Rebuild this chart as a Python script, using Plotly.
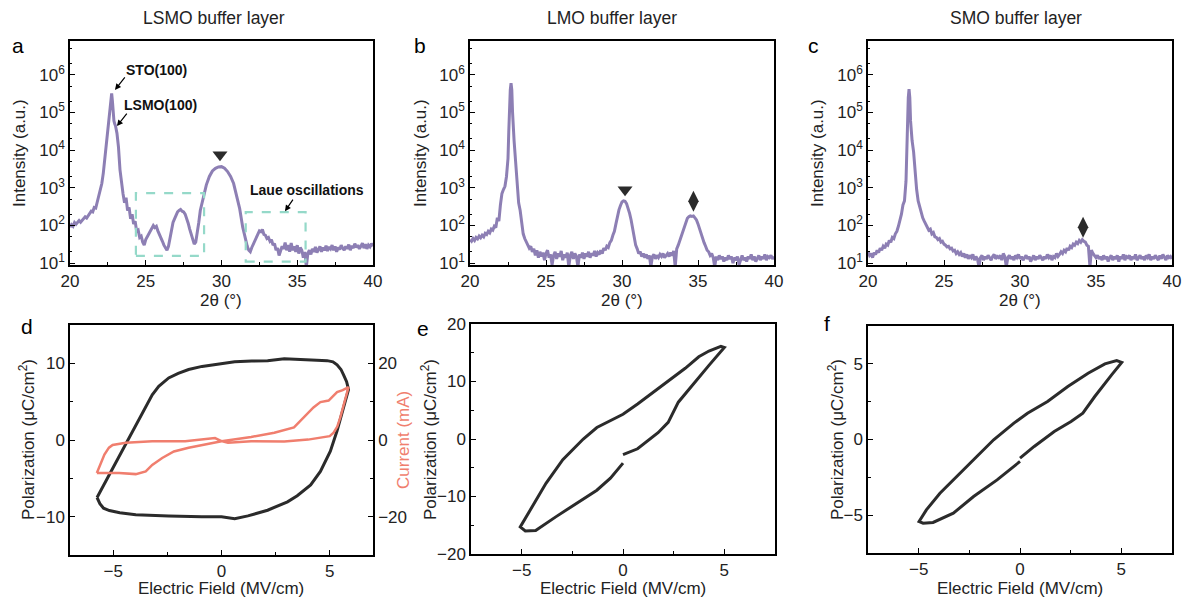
import plotly.graph_objects as go

# ---- XRD data (2theta in degrees, intensity in a.u.) ----
lsmo_2theta = [20.0, 20.1, 20.2, 20.3, 20.4, 20.5, 20.6, 20.7, 20.8, 20.9, 21.0, 21.1, 21.2, 21.3, 21.4,
               21.5, 21.6, 21.7, 21.8, 21.9, 22.0, 22.1, 22.2, 22.3, 22.4, 22.5, 22.6, 22.7, 22.75, 22.8,
               22.85, 22.9, 22.95, 23.0, 23.1, 23.2, 23.3, 23.4, 23.5, 23.6, 23.7, 23.8, 23.9, 24.0, 24.1,
               24.2, 24.3, 24.4, 24.5, 24.6, 24.7, 24.8, 24.9, 25.0, 25.1, 25.2, 25.3, 25.4, 25.5, 25.6,
               25.7, 25.8, 25.9, 26.0, 26.1, 26.2, 26.3, 26.4, 26.5, 26.6, 26.7, 26.8, 26.9, 27.0, 27.1,
               27.2, 27.3, 27.4, 27.5, 27.6, 27.7, 27.8, 27.9, 28.0, 28.1, 28.2, 28.3, 28.4, 28.5, 28.6,
               28.8, 29.0, 29.2, 29.4, 29.6, 29.8, 30.0, 30.2, 30.4, 30.6, 30.8, 31.0, 31.2, 31.4, 31.6,
               31.7, 31.8, 31.9, 32.0, 32.1, 32.2, 32.3, 32.4, 32.5, 32.6, 32.7, 32.8, 32.9, 33.0, 33.1,
               33.2, 33.3, 33.4, 33.5, 33.6, 33.7, 33.8, 33.9, 34.0, 34.1, 34.2, 34.3, 34.4, 34.5, 34.6,
               34.7, 34.8, 34.9, 35.0, 35.1, 35.2, 35.3, 35.4, 35.5, 35.6, 35.7, 35.8, 35.9, 36.0, 36.1,
               36.2, 36.3, 36.4, 36.5, 36.6, 36.7, 36.8, 36.9, 37.0, 37.1, 37.2, 37.3, 37.4, 37.5, 37.6,
               37.7, 37.8, 37.9, 38.0, 38.1, 38.2, 38.3, 38.4, 38.5, 38.6, 38.7, 38.8, 38.9, 39.0, 39.1,
               39.2, 39.3, 39.4, 39.5, 39.6, 39.7, 39.8, 39.9, 40.0]
lsmo_int = [90, 105, 95, 120, 108, 118, 135, 122, 140, 150, 170, 158, 185, 200, 240,
            230, 300, 290, 420, 560, 800, 1300, 2500, 6000, 18000, 50000, 120000, 250000, 320000, 200000,
            90000, 60000, 50000, 45000, 28000, 12000, 3000, 1200, 700, 400, 550, 250, 300, 150, 200,
            110, 130, 70, 75, 48, 52, 36, 30, 42, 50, 62, 70, 85, 100, 88,
            95, 72, 60, 48, 38, 30, 26, 22, 28, 45, 70, 120, 150, 190, 230,
            250, 265, 240, 230, 200, 160, 115, 80, 58, 40, 32, 36, 60, 120, 250,
            600, 1200, 2000, 2800, 3300, 3600, 3650, 3300, 2700, 2000, 1300, 650, 280, 90, 40,
            28, 22, 20, 26, 32, 42, 50, 60, 72, 68, 78, 58, 55, 45, 48,
            38, 42, 30, 33, 22, 25, 16, 20, 28, 24, 35, 22, 30, 20, 34,
            22, 28, 20, 30, 18, 26, 22, 14, 20, 8, 18, 22, 17, 24, 20,
            27, 19, 24, 28, 20, 26, 22, 29, 21, 27, 24, 30, 22, 28, 20,
            26, 23, 30, 25, 22, 28, 24, 31, 22, 29, 25, 33, 26, 30, 24,
            28, 34, 25, 32, 24, 30, 27, 33, 28]

lmo_2theta = [20.0, 20.1, 20.2, 20.3, 20.4, 20.5, 20.6, 20.7, 20.8, 20.9, 21.0, 21.1, 21.2, 21.3, 21.4,
              21.5, 21.6, 21.7, 21.8, 21.9, 22.0, 22.1, 22.2, 22.3, 22.4, 22.5, 22.55, 22.6, 22.65, 22.7,
              22.75, 22.8, 22.85, 22.9, 23.0, 23.1, 23.2, 23.3, 23.4, 23.5, 23.6, 23.7, 23.8, 23.9, 24.0,
              24.1, 24.2, 24.3, 24.4, 24.5, 24.6, 24.7, 24.8, 24.9, 25.0, 25.1, 25.2, 25.3, 25.4, 25.5,
              25.6, 25.7, 25.8, 25.9, 26.0, 26.1, 26.2, 26.3, 26.4, 26.5, 26.6, 26.7, 26.8, 26.9, 27.0,
              27.1, 27.2, 27.3, 27.4, 27.5, 27.6, 27.7, 27.8, 27.9, 28.0, 28.1, 28.2, 28.3, 28.4, 28.5,
              28.6, 28.7, 28.8, 28.9, 29.0, 29.1, 29.2, 29.3, 29.4, 29.5, 29.6, 29.7, 29.8, 29.9, 30.0,
              30.1, 30.2, 30.3, 30.4, 30.5, 30.6, 30.7, 30.8, 30.9, 31.0, 31.1, 31.2, 31.3, 31.4, 31.5,
              31.6, 31.7, 31.8, 31.9, 32.0, 32.1, 32.2, 32.3, 32.4, 32.5, 32.6, 32.7, 32.8, 32.9, 33.0,
              33.1, 33.2, 33.3, 33.4, 33.5, 33.6, 33.7, 33.8, 33.9, 34.0, 34.1, 34.2, 34.3, 34.4, 34.5,
              34.6, 34.7, 34.8, 34.9, 35.0, 35.1, 35.2, 35.3, 35.4, 35.5, 35.6, 35.7, 35.8, 35.9, 36.0,
              36.1, 36.2, 36.3, 36.4, 36.5, 36.6, 36.7, 36.8, 36.9, 37.0, 37.1, 37.2, 37.3, 37.4, 37.5,
              37.6, 37.7, 37.8, 37.9, 38.0, 38.1, 38.2, 38.3, 38.4, 38.5, 38.6, 38.7, 38.8, 38.9, 39.0,
              39.1, 39.2, 39.3, 39.4, 39.5, 39.6, 39.7, 39.8, 39.9, 40.0]
lmo_int = [42, 38, 45, 40, 48, 44, 52, 47, 55, 50, 62, 58, 70, 64, 80,
           75, 95, 88, 160, 130, 350, 700, 900, 1100, 2000, 6000, 30000, 150000, 400000, 600000,
           400000, 100000, 30000, 18000, 5000, 1200, 400, 250, 120, 60, 45, 38, 30, 25, 28,
           20, 24, 16, 22, 14, 20, 15, 19, 12, 18, 22, 14, 17, 9, 16,
           20, 13, 18, 15, 21, 12, 17, 14, 19, 8, 16, 20, 13, 18, 15,
           8, 17, 14, 19, 13, 18, 15, 20, 14, 18, 16, 21, 15, 19, 17,
           22, 18, 25, 22, 28, 26, 35, 40, 55, 70, 110, 180, 260, 340, 420,
           450, 440, 380, 300, 210, 140, 80, 48, 30, 24, 18, 20, 15, 18, 14,
           17, 13, 16, 8, 15, 17, 13, 16, 14, 17, 15, 18, 14, 16, 18,
           15, 19, 16, 21, 8, 24, 30, 40, 55, 75, 100, 130, 155, 170, 180,
           175, 180, 160, 140, 110, 80, 60, 45, 35, 28, 22, 20, 16, 18, 14,
           8, 15, 12, 16, 13, 15, 11, 14, 12, 16, 13, 15, 10, 14, 12,
           15, 9, 13, 16, 12, 14, 11, 15, 13, 17, 12, 15, 11, 14, 16,
           12, 15, 13, 17, 12, 15, 14, 16, 13, 15]

smo_2theta = [20.0, 20.1, 20.2, 20.3, 20.4, 20.5, 20.6, 20.7, 20.8, 20.9, 21.0, 21.1, 21.2, 21.3, 21.4,
              21.5, 21.6, 21.7, 21.8, 21.9, 22.0, 22.1, 22.2, 22.3, 22.4, 22.5, 22.55, 22.6, 22.65, 22.7,
              22.75, 22.8, 22.85, 22.9, 23.0, 23.1, 23.2, 23.3, 23.4, 23.5, 23.6, 23.7, 23.8, 23.9, 24.0,
              24.1, 24.2, 24.3, 24.4, 24.5, 24.6, 24.7, 24.8, 24.9, 25.0, 25.1, 25.2, 25.3, 25.4, 25.5,
              25.6, 25.7, 25.8, 25.9, 26.0, 26.1, 26.2, 26.3, 26.4, 26.5, 26.6, 26.7, 26.8, 26.9, 27.0,
              27.1, 27.2, 27.3, 27.4, 27.5, 27.6, 27.7, 27.8, 27.9, 28.0, 28.1, 28.2, 28.3, 28.4, 28.5,
              28.6, 28.7, 28.8, 28.9, 29.0, 29.1, 29.2, 29.3, 29.4, 29.5, 29.6, 29.7, 29.8, 29.9, 30.0,
              30.1, 30.2, 30.3, 30.4, 30.5, 30.6, 30.7, 30.8, 30.9, 31.0, 31.1, 31.2, 31.3, 31.4, 31.5,
              31.6, 31.7, 31.8, 31.9, 32.0, 32.1, 32.2, 32.3, 32.4, 32.5, 32.6, 32.7, 32.8, 32.9, 33.0,
              33.1, 33.2, 33.3, 33.4, 33.5, 33.6, 33.7, 33.8, 33.9, 34.0, 34.1, 34.2, 34.3, 34.4, 34.5,
              34.6, 34.7, 34.8, 34.9, 35.0, 35.1, 35.2, 35.3, 35.4, 35.5, 35.6, 35.7, 35.8, 35.9, 36.0,
              36.1, 36.2, 36.3, 36.4, 36.5, 36.6, 36.7, 36.8, 36.9, 37.0, 37.1, 37.2, 37.3, 37.4, 37.5,
              37.6, 37.7, 37.8, 37.9, 38.0, 38.1, 38.2, 38.3, 38.4, 38.5, 38.6, 38.7, 38.8, 38.9, 39.0,
              39.1, 39.2, 39.3, 39.4, 39.5, 39.6, 39.7, 39.8, 39.9, 40.0]
smo_int = [20, 16, 18, 14, 19, 17, 22, 19, 25, 22, 28, 25, 32, 30, 40,
           36, 48, 45, 60, 70, 95, 130, 200, 350, 450, 1500, 10000, 60000, 250000, 420000,
           250000, 60000, 25000, 18000, 9000, 2500, 900, 450, 300, 220, 160, 130, 110, 90, 75,
           80, 60, 65, 50, 48, 42, 45, 36, 38, 32, 30, 27, 28, 24, 25,
           21, 22, 18, 20, 17, 19, 15, 18, 14, 17, 13, 16, 14, 17, 12,
           15, 13, 8, 14, 16, 12, 15, 13, 16, 14, 12, 15, 17, 13, 15,
           14, 16, 12, 18, 15, 8, 14, 16, 13, 15, 12, 16, 14, 17, 13,
           15, 12, 14, 16, 13, 15, 11, 14, 16, 12, 15, 13, 16, 14, 12,
           15, 13, 17, 14, 16, 12, 15, 14, 18, 15, 17, 20, 18, 22, 20,
           25, 22, 28, 26, 32, 30, 36, 33, 40, 36, 42, 38, 36, 30, 28,
           8, 22, 18, 16, 14, 16, 13, 15, 12, 16, 13, 15, 11, 14, 16,
           12, 15, 13, 16, 11, 15, 13, 17, 12, 15, 14, 16, 12, 15, 13,
           17, 12, 14, 16, 13, 15, 12, 16, 14, 17, 12, 15, 13, 16, 14,
           12, 16, 13, 17, 14, 12, 16, 14, 15, 13]

# peak markers (2theta, intensity)
lsmo_tri = ([29.9], [7600])
lmo_tri = ([30.2], [890])
lmo_dia = ([34.7], [440])
smo_dia = ([34.15], [90])

# ---- P-E loops (field in MV/cm, polarization in uC/cm2, current in mA) ----
lsmo_field = [-5.75, -5.03, -4.27, -3.66, -3.2, -2.9, -2.44, -2.0, -1.52, -0.9, -0.3, 0.0, 0.61, 1.4,
              2.13, 2.9, 3.66, 4.4, 4.88, 5.15, 5.34, 5.52, 5.64, 5.78, 5.87, 5.76, 5.64, 5.34, 5.03,
              4.57, 4.12, 3.5, 3.05, 2.13, 1.22, 0.61, 0.0, -0.91, -2.44, -3.96, -4.7, -5.18, -5.45,
              -5.62, -5.75]
lsmo_pol = [-7.5, -3.7, 0.2, 3.4, 5.9, 7.0, 8.1, 8.7, 9.2, 9.6, 9.8, 9.9, 10.2, 10.3,
            10.35, 10.6, 10.45, 10.4, 10.35, 10.2, 9.8, 9.2, 8.5, 7.6, 6.6, 5.5, 4.3, 1.2, -1.45,
            -4.1, -5.86, -7.27, -8.06, -9.16, -9.9, -10.26, -10.0, -10.0, -9.9, -9.75, -9.5, -9.2, -8.9,
            -8.3, -7.5]
lsmo_field_i = [-5.76, -5.55, -5.41, -5.2, -5.03, -4.42, -3.2, -1.68, -0.6, -0.3, 0.0, 0.3, 1.37, 2.9,
                4.0, 4.42, 5.0, 5.18, 5.35, 5.49, 5.72, 5.87, 5.6, 5.34, 4.95, 4.57, 4.25, 3.96, 3.35,
                2.44, 1.37, 0.0, -1.52, -2.2, -2.74, -3.2, -3.5, -3.96, -4.73, -5.49, -5.76]
lsmo_current = [-8.6, -6.0, -3.8, -2.0, -1.3, -0.7, -0.3, -0.3, 0.2, 0.5, -0.3, -0.7, -0.3, -0.4,
                0.1, 0.4, 1.0, 1.9, 3.5, 5.9, 10.3, 13.8, 13.0, 12.5, 10.3, 9.9, 8.5, 6.8, 3.3,
                1.9, 0.8, -0.3, -2.0, -3.0, -4.7, -6.5, -8.2, -8.9, -8.6, -8.6, -8.6]

lmo_field = [0.0, 0.72, 1.73, 2.23, 2.73, 3.4, 4.24, 5.0, 4.83, 4.24, 3.74, 3.07, 1.73, 0.72, 0.0,
             -0.79, -1.29, -1.96, -2.97, -3.8, -4.48, -5.07, -4.82, -4.31, -3.3, -2.3, -1.29, -0.62, 0.0]
lmo_pol = [-2.7, -1.7, 1.1, 2.9, 6.4, 9.3, 12.8, 15.9, 16.1, 15.3, 14.3, 12.3, 8.7, 6.1, 4.3,
           2.9, 2.0, 0.0, -3.6, -7.7, -11.8, -15.3, -16.0, -15.9, -13.5, -11.2, -8.9, -6.8, -4.2]

smo_field = [0.0, 0.7, 1.69, 2.52, 3.1, 3.69, 4.52, 5.02, 4.77, 4.19, 3.36, 2.36, 1.36, 0.37, -0.3,
             -1.3, -2.13, -2.96, -3.95, -4.62, -4.98, -4.78, -4.29, -3.29, -2.29, -1.13, -0.3, 0.0]
smo_pol = [-1.23, -0.46, 0.53, 1.19, 1.74, 2.84, 4.27, 5.09, 5.22, 5.0, 4.38, 3.5, 2.51, 1.74, 1.08,
           -0.02, -1.12, -2.22, -3.55, -4.65, -5.42, -5.53, -5.48, -4.87, -3.77, -2.67, -1.78, -1.45]

log_tickvals = [10, 100, 1000, 10000, 100000, 1000000]
log_ticktext = ["10<sup>1</sup>", "10<sup>2</sup>", "10<sup>3</sup>", "10<sup>4</sup>",
                "10<sup>5</sup>", "10<sup>6</sup>"]

PURPLE = "#8d7fb4"
BLACK = "#2b2b2b"
SALMON = "#f07e6e"
TEAL = "#95d9c9"
FONT = "Liberation Sans, Arial, sans-serif"

W, H = 1183, 598


def px_x(a, b):
    return [a / W, b / W]


def px_y(top, bottom):
    return [1 - bottom / H, 1 - top / H]


def axis(**kw):
    d = dict(showline=True, linecolor="black", linewidth=1.5, mirror=True,
             ticks="inside", ticklen=5, tickwidth=1.2, tickcolor="black",
             showgrid=False, zeroline=False, automargin=False,
             tickfont=dict(size=17, color="#222", family=FONT))
    d.update(kw)
    return d


fig = go.Figure()

xrd = [(lsmo_2theta, lsmo_int), (lmo_2theta, lmo_int), (smo_2theta, smo_int)]
for i, (x, y) in enumerate(xrd):
    n = "" if i == 0 else str(i + 1)
    fig.add_trace(go.Scatter(x=x, y=y, mode="lines", line=dict(color=PURPLE, width=3),
                             xaxis="x" + n, yaxis="y" + n, showlegend=False))

# peak markers
fig.add_trace(go.Scatter(x=lsmo_tri[0], y=lsmo_tri[1], mode="markers", xaxis="x", yaxis="y",
                         marker=dict(symbol="triangle-down", size=13, color=BLACK), showlegend=False))
fig.add_trace(go.Scatter(x=lmo_tri[0], y=lmo_tri[1], mode="markers", xaxis="x2", yaxis="y2",
                         marker=dict(symbol="triangle-down", size=13, color=BLACK), showlegend=False))
fig.add_trace(go.Scatter(x=lmo_dia[0], y=lmo_dia[1], mode="markers", xaxis="x2", yaxis="y2",
                         marker=dict(symbol="diamond-tall", size=15, color=BLACK), showlegend=False))
fig.add_trace(go.Scatter(x=smo_dia[0], y=smo_dia[1], mode="markers", xaxis="x3", yaxis="y3",
                         marker=dict(symbol="diamond-tall", size=15, color=BLACK), showlegend=False))

# P-E loops
fig.add_trace(go.Scatter(x=lsmo_field, y=lsmo_pol, mode="lines", line=dict(color=BLACK, width=3),
                         xaxis="x4", yaxis="y4", showlegend=False))
fig.add_trace(go.Scatter(x=lsmo_field_i, y=lsmo_current, mode="lines", line=dict(color=SALMON, width=2.5),
                         xaxis="x4", yaxis="y7", showlegend=False))
fig.add_trace(go.Scatter(x=lmo_field, y=lmo_pol, mode="lines", line=dict(color=BLACK, width=3),
                         xaxis="x5", yaxis="y5", showlegend=False))
fig.add_trace(go.Scatter(x=smo_field, y=smo_pol, mode="lines", line=dict(color=BLACK, width=3),
                         xaxis="x6", yaxis="y6", showlegend=False))

top_x = [px_x(70, 373), px_x(470, 774), px_x(868, 1172)]
top_y = px_y(41, 265)
bot_x = [px_x(70, 373), px_x(471, 775), px_x(868, 1172)]
bot_y = [px_y(325, 555), px_y(324, 554), px_y(326, 553)]

layout = dict(width=W, height=H, margin=dict(l=0, r=0, t=0, b=0, autoexpand=False),
              paper_bgcolor="white", plot_bgcolor="white",
              font=dict(family=FONT, color="#222"), showlegend=False)

for i in range(3):
    n = "" if i == 0 else str(i + 1)
    layout["xaxis" + n] = axis(domain=top_x[i], anchor="y" + n, range=[20, 40], dtick=5,
                               minor=dict(dtick=2.5, ticks="inside", ticklen=3, tickcolor="black"))
    layout["yaxis" + n] = axis(domain=top_y, anchor="x" + n, type="log", range=[0.95, 6.9],
                               tickvals=log_tickvals, ticktext=log_ticktext,
                               minor=dict(ticks="inside", ticklen=2.5, tickcolor="black"))

bot_ranges = [([-7, 7], [-15, 15], 10, 5), ([-7.5, 7.5], [-20, 20], 10, 5), ([-7.5, 7.5], [-7.5, 7.5], 5, 2.5)]
for i in range(3):
    n = str(i + 4)
    xr, yr, dt, mdt = bot_ranges[i]
    layout["xaxis" + n] = axis(domain=bot_x[i], anchor="y" + n, range=xr, dtick=5,
                               minor=dict(dtick=2.5, ticks="inside", ticklen=3, tickcolor="black"))
    layout["yaxis" + n] = axis(domain=bot_y[i], anchor="x" + n, range=yr, dtick=dt,
                               minor=dict(dtick=mdt, ticks="inside", ticklen=3, tickcolor="black"))

layout["yaxis7"] = axis(domain=bot_y[0], anchor="x4", overlaying="y4", side="right", range=[-30, 30],
                        dtick=20, mirror=False,
                        minor=dict(dtick=10, ticks="inside", ticklen=3, tickcolor="black"))

fig.update_layout(**layout)

# dashed boxes marking Laue oscillations (panel a)
for x0, x1, y0, y1 in [(24.35, 28.85, 15.5, 725), (31.6, 35.55, 11, 225)]:
    fig.add_shape(type="rect", xref="x", yref="y", x0=x0, x1=x1, y0=y0, y1=y1,
                  line=dict(color=TEAL, width=2.2, dash="dash"))

ann = []


def label(x, y, text, size=17, color="#222", angle=0):
    ann.append(dict(x=x / W, y=1 - y / H, xref="paper", yref="paper", text=text, showarrow=False,
                    xanchor="center", yanchor="middle", textangle=angle,
                    font=dict(size=size, color=color)))


# panel titles
label(214, 18, "LSMO buffer layer", size=17.5)
label(612, 18, "LMO buffer layer", size=17.5)
label(1016, 18, "SMO buffer layer", size=17.5)
# panel letters
for x, y, t in [(18, 46, "a"), (420, 46, "b"), (813, 46, "c"), (27, 326, "d"), (423, 328, "e"), (827, 323, "f")]:
    label(x, y, t, size=21, color="black")
# axis titles
for cx in [221, 622, 1020]:
    label(cx, 300, "2θ (°)")
for cx in [221, 623, 1020]:
    label(cx, 588, "Electric Field (MV/cm)")
for cx in [20, 421, 818]:
    label(cx, 153, "Intensity (a.u.)", angle=-90)
for cx in [27, 429, 836]:
    label(cx, 440, "Polarization (μC/cm<sup>2</sup>)", angle=-90)
label(403, 440, "Current (mA)", color=SALMON, angle=-90)

# labels in panel a (y in log10 units for a log axis)
for x, y, t in [(25.74, 6.13, "STO(100)"), (25.95, 5.2, "LSMO(100)"), (35.64, 2.94, "Laue oscillations")]:
    ann.append(dict(x=x, y=y, xref="x", yref="y", text="<b>" + t + "</b>", showarrow=False,
                    xanchor="center", yanchor="middle", font=dict(size=14, color="#111")))
for x, y, ax, ay in [(22.97, 5.6, 11, -14), (23.1, 4.64, 11, -14), (34.19, 2.38, 9, -13)]:
    ann.append(dict(x=x, y=y, xref="x", yref="y", text="", showarrow=True, ax=ax, ay=ay,
                    arrowhead=2, arrowsize=1, arrowwidth=1.2, arrowcolor="black"))

fig.update_layout(annotations=ann)

# the page body has a default 8px margin; remove it so the figure fills the window
fig.write_html("out.html", config={"displayModeBar": False},
               post_script="document.body.style.margin='0';")
